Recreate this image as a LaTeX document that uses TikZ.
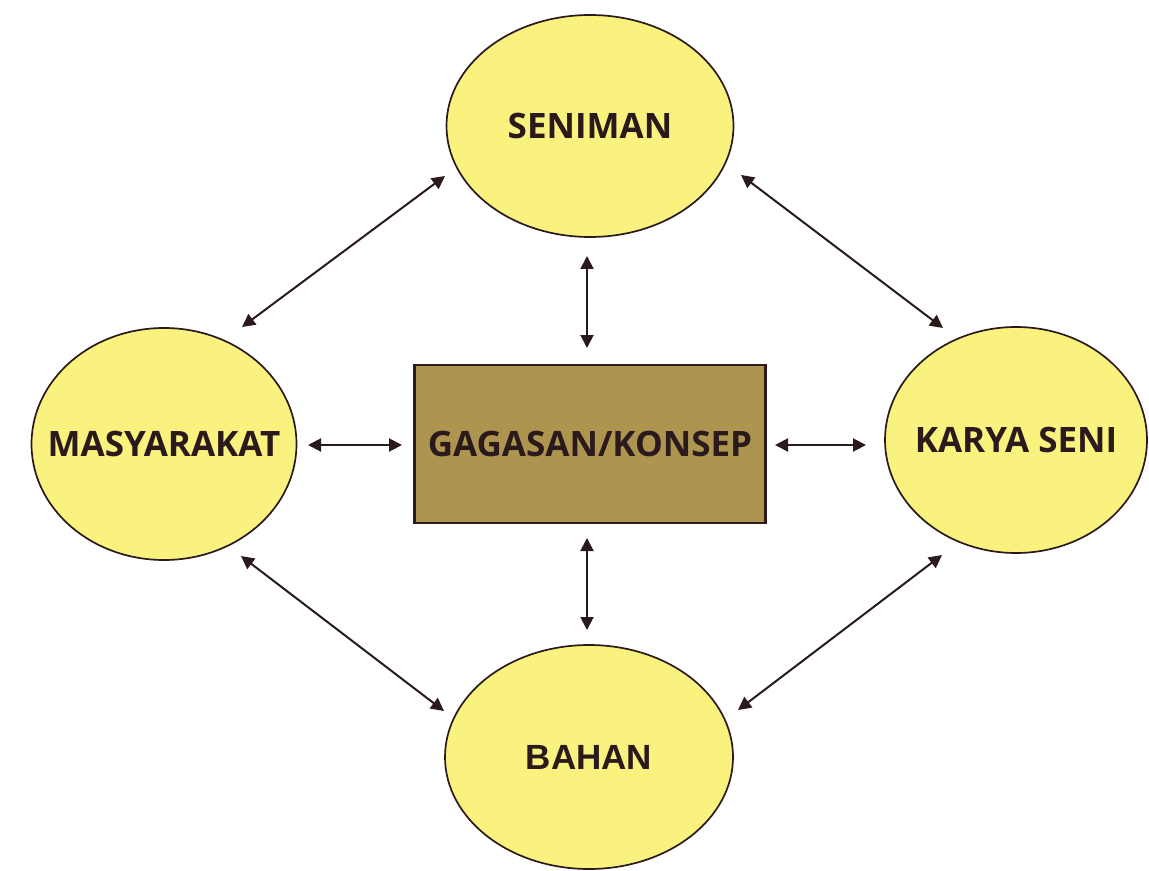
\documentclass[tikz,border=0pt]{standalone}
\usepackage{fontspec}
\setmainfont{Open Sans}
\newfontfamily\arialfont{Liberation Sans}
\usetikzlibrary{arrows.meta,shapes.geometric}
\definecolor{ellfill}{HTML}{F9F27F}
\definecolor{boxfill}{HTML}{AD9550}
\definecolor{ink}{HTML}{2B1A1C}
\tikzset{
  ell/.style={shape=ellipse, draw=ink, line width=0.85pt, fill=ellfill, inner sep=0pt},
  lbl/.style={inner sep=0pt, text=ink, font=\fontsize{17.5}{20}\selectfont\bfseries},
  conbox/.style={draw=ink, line width=1.2pt, fill=boxfill, inner sep=0pt, text=ink, font=\fontsize{17.5}{20}\selectfont\bfseries},
  link/.style={draw=ink, line width=1pt, {Triangle[length=6.5pt,width=6.5pt]}-{Triangle[length=6.5pt,width=6.5pt]}}
}
\begin{document}
\begin{tikzpicture}[x=0.5pt,y=-0.5pt]
\useasboundingbox (0,0) rectangle (1149,871);
\fill[white] (0,0) rectangle (1149,871);
\node[ell, minimum width=287*0.5pt, minimum height=222*0.5pt] (sen) at (590,126) {};
\node[lbl] (sent) at (sen) {SENIMAN};
\node[ell, minimum width=265*0.5pt, minimum height=232*0.5pt] (mas) at (164,444) {};
\node[lbl] (mast) at (mas) {MASYARAKAT};
\node[ell, minimum width=262*0.5pt, minimum height=226*0.5pt] (kar) at (1016,440) {};
\node[lbl] (kart) at (kar) {KARYA SENI};
\node[ell, minimum width=288*0.5pt, minimum height=224*0.5pt] (bah) at (589,757) {};
\node[lbl, font=\arialfont\fontsize{17.5}{20}\selectfont\bfseries] (baht) at (bah) {BAHAN};
\node[conbox, minimum width=351*0.5pt, minimum height=158*0.5pt] (gag) at (590,444) {GAGASAN/KONSEP};
% arrow end coordinates
\coordinate (a1s) at (445,176);
\coordinate (a1m) at (242,327);
\coordinate (a2s) at (741,175);
\coordinate (a2k) at (943,328);
\coordinate (a3m) at (241,556);
\coordinate (a3b) at (444,711);
\coordinate (a4k) at (942,555);
\coordinate (a4b) at (738,710);
\coordinate (v1t) at (587,256);
\coordinate (v1b) at (587,348);
\coordinate (v2t) at (587,538);
\coordinate (v2b) at (587,630);
\coordinate (h1l) at (308,445);
\coordinate (h1r) at (402,445);
\coordinate (h2l) at (775,445);
\coordinate (h2r) at (866,445);
\draw[link] (a1s) -- (a1m);
\draw[link] (a2s) -- (a2k);
\draw[link] (a3m) -- (a3b);
\draw[link] (a4k) -- (a4b);
\draw[link] (v1t) -- (v1b);
\draw[link] (v2t) -- (v2b);
\draw[link] (h1l) -- (h1r);
\draw[link] (h2l) -- (h2r);
\end{tikzpicture}
\end{document}
